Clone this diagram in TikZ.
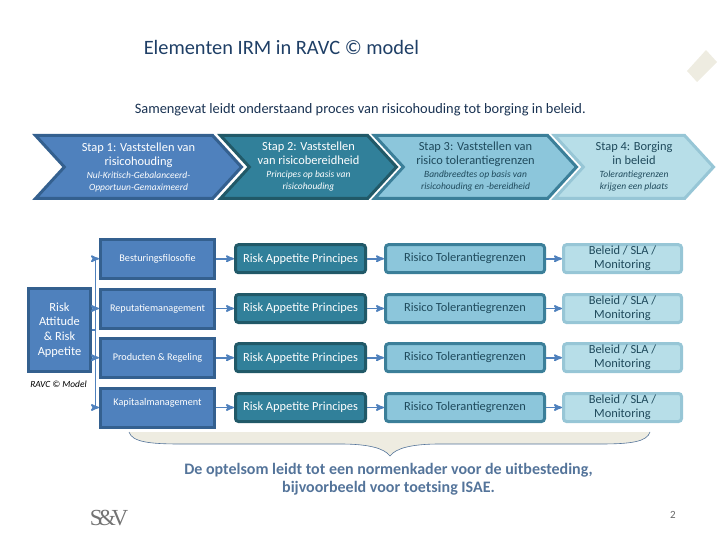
\documentclass[tikz,border=0pt]{standalone}
\usepackage{fontspec}
\setmainfont{Carlito}
\newfontfamily\logofont{Liberation Serif}
\usepackage{tikz}
\usetikzlibrary{arrows,shapes.symbols}
\definecolor{blueFill}{HTML}{4F81BD}
\definecolor{blueLine}{HTML}{34608F}
\definecolor{tealFill}{HTML}{31809A}
\definecolor{tealLine}{HTML}{215968}
\definecolor{aquaFill}{HTML}{8CC6DB}
\definecolor{aquaLine}{HTML}{3B7F99}
\definecolor{paleFill}{HTML}{B7DEE8}
\definecolor{paleLine}{HTML}{97C6D6}
\definecolor{darkText}{HTML}{1F4A5C}
\definecolor{titleText}{HTML}{1F3F66}
\definecolor{sandFill}{HTML}{EEECE1}
\definecolor{noteText}{HTML}{54749A}

\begin{document}
\begin{tikzpicture}[x=1pt,y=-1pt,->,>=stealth',shorten >=0pt,node distance=150pt,
                    line width=1.5pt]
\tikzstyle{every node}=[align=center,inner sep=0pt,font=\fontsize{12.4}{14}\selectfont]
\tikzstyle{chevron}=[signal,signal to=east,signal from=west,signal pointer angle=95,
                     minimum height=63pt,line width=3pt,draw]
\tikzstyle{blue}=[draw=blueLine,fill=blueFill,text=white]
\tikzstyle{teal}=[draw=tealLine,fill=tealFill,text=white]
\tikzstyle{aqua}=[draw=aquaLine,fill=aquaFill,text=darkText]
\tikzstyle{pale}=[draw=paleLine,fill=paleFill,text=darkText]
\tikzstyle{topic}=[blue,line width=3pt,minimum width=114pt,minimum height=39pt,
                   font=\fontsize{10.2}{12}\selectfont]
\tikzstyle{tile}=[rectangle,rounded corners=3pt,line width=3pt,minimum height=28pt]
\tikzstyle{link}=[blueFill,line width=1.7pt]
\newcommand{\sub}[1]{{\fontsize{9.5}{12.5}\selectfont\itshape #1}}
\useasboundingbox (0,0) rectangle (720,540);

\node (title) [anchor=west,text=titleText,font=\fontsize{20.4}{22}\selectfont] at (143,47) {Elementen IRM in RAVC © model};
\node (intro) [anchor=west,text=titleText!80!black,font=\fontsize{14.4}{16}\selectfont] at (134,110) {Samengevat leidt onderstaand proces van risicohouding tot borging in beleid.};

% the four steps
\node [chevron,pale,minimum width=159pt] (step4) at (634,167) {Stap 4: Borging\\in beleid\\[-1pt]\sub{Tolerantiegrenzen}\\[-2pt]\sub{krijgen een plaats}};
\node [chevron,aqua,minimum width=202pt] (step3) at (475.5,167) {Stap 3: Vaststellen van\\risico tolerantiegrenzen\\[-1pt]\sub{Bandbreedtes op basis van}\\[-2pt]\sub{risicohouding en -bereidheid}};
\node [chevron,teal,minimum width=176pt] (step2) at (308.5,167) {Stap 2: Vaststellen\\van risicobereidheid\\[-1pt]\sub{Principes op basis van}\\[-2pt]\sub{risicohouding}};
\node [chevron,blue,minimum width=206pt] (step1) at (138.5,167) {Stap 1: Vaststellen van\\risicohouding\\[-1pt]\sub{Nul-Kritisch-Gebalanceerd-}\\[-2pt]\sub{Opportuun-Gemaximeerd}};

% left block
\node [blue,rectangle,line width=3pt,minimum width=62pt,minimum height=83pt,font=\fontsize{12.4}{14.7}\selectfont] (risk) at (59.5,330) {Risk\\Attitude\\\& Risk\\Appetite};
\node (ravc) [text=black,font=\fontsize{9.4}{11}\selectfont\itshape] at (58.5,384) {RAVC © Model};
\coordinate (trunk) at (95.5,330);

% row 1
\node [topic] (topic1) at (157.5,258.7) {Besturingsfilosofie};
\node [tile,teal,minimum width=130pt,right of=topic1,xshift=-7pt] (appetite1) {Risk Appetite Principes};
\node [tile,aqua,minimum width=159pt,right of=appetite1,xshift=14.5pt] (tolerance1) {Risico Tolerantiegrenzen};
\node [tile,pale,minimum width=118pt,right of=tolerance1,xshift=7.5pt] (policy1) {Beleid / SLA /\\Monitoring};
% row 2
\node [topic] (topic2) at (157.5,308.5) {Reputatiemanagement};
\node [tile,teal,minimum width=130pt,right of=topic2,xshift=-7pt] (appetite2) {Risk Appetite Principes};
\node [tile,aqua,minimum width=159pt,right of=appetite2,xshift=14.5pt] (tolerance2) {Risico Tolerantiegrenzen};
\node [tile,pale,minimum width=118pt,right of=tolerance2,xshift=7.5pt] (policy2) {Beleid / SLA /\\Monitoring};
% row 3
\node [topic] (topic3) at (157.5,357.7) {Producten \& Regeling};
\node [tile,teal,minimum width=130pt,right of=topic3,xshift=-7pt] (appetite3) {Risk Appetite Principes};
\node [tile,aqua,minimum width=159pt,right of=appetite3,xshift=14.5pt] (tolerance3) {Risico Tolerantiegrenzen};
\node [tile,pale,minimum width=118pt,right of=tolerance3,xshift=7.5pt] (policy3) {Beleid / SLA /\\Monitoring};
% row 4
\node [topic,text depth=12pt] (topic4) at (157.5,407.5) {Kapitaalmanagement};
\node [tile,teal,minimum width=130pt,right of=topic4,xshift=-7pt] (appetite4) {Risk Appetite Principes};
\node [tile,aqua,minimum width=159pt,right of=appetite4,xshift=14.5pt] (tolerance4) {Risico Tolerantiegrenzen};
\node [tile,pale,minimum width=118pt,right of=tolerance4,xshift=7.5pt] (policy4) {Beleid / SLA /\\Monitoring};

\draw [link,-] (risk.east) -- (trunk);
\draw [link] (trunk) |- (topic1.west);
\draw [link] (trunk) |- (topic2.west);
\draw [link] (trunk) |- (topic3.west);
\draw [link] (trunk) |- (topic4.west);
\path [link]
    (topic1) edge (appetite1) (appetite1) edge (tolerance1) (tolerance1) edge (policy1)
    (topic2) edge (appetite2) (appetite2) edge (tolerance2) (tolerance2) edge (policy2)
    (topic3) edge (appetite3) (appetite3) edge (tolerance3) (tolerance3) edge (policy3)
    (topic4) edge (appetite4) (appetite4) edge (tolerance4) (tolerance4) edge (policy4);

% brace under the rows
\path [-,fill=sandFill] (129,432) .. controls (132,442) and (150,444) .. (180,444) -- (340,444)
    .. controls (368,444) and (384,448) .. (390,456) .. controls (396,448) and (412,444) .. (440,444)
    -- (600,444) .. controls (630,444) and (647,442) .. (650,432) -- cycle;
\draw [-,draw=noteText,line width=0.6pt] (129,432) .. controls (132,442) and (150,444) .. (180,444) -- (340,444)
    .. controls (368,444) and (384,448) .. (390,456) .. controls (396,448) and (412,444) .. (440,444)
    -- (600,444) .. controls (630,444) and (647,442) .. (650,432);
\node (note) [text=noteText,font=\bfseries\fontsize{16}{18}\selectfont] at (388.5,479.5) {De optelsom leidt tot een normenkader voor de uitbesteding,\\bijvoorbeeld voor toetsing ISAE.};

% logo, page number, corner mark
\node (logo) [text=black!55,font=\logofont\fontsize{23}{24}\selectfont] at (109,518) {S\kern-4.5pt\&\kern-4.5pt V};
\node (page) [text=black!60,font=\fontsize{11}{12}\selectfont] at (673,515) {2};
\fill [sandFill] (687,71) -- (706,50) -- (717,62) -- (697,82) -- cycle;
\end{tikzpicture}
\end{document}
